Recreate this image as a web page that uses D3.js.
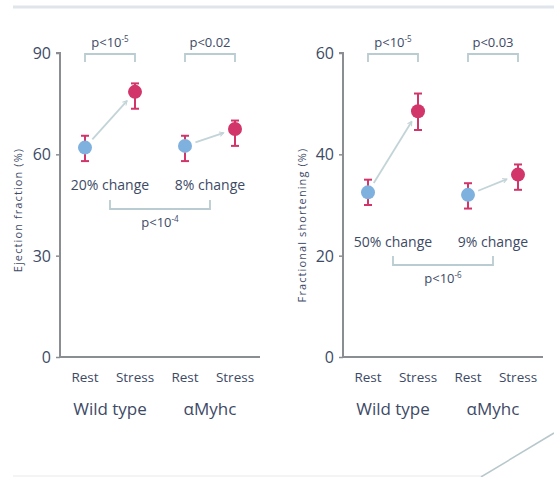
<!DOCTYPE html>
<html><head><meta charset="utf-8">
<script src="https://cdn.jsdelivr.net/npm/d3@7"></script>
<style>
body{margin:0;background:#fff;}
svg{display:block;font-family:"Open Sans",Lato,sans-serif;}
</style></head><body>
<div id="chart"></div>
<script>
const categories = ["Rest","Stress","Rest","Stress"];
const groups = ["Wild type","αMyhc"];
// Ejection fraction (%)
const efMean = [62, 78.5, 62.5, 67.5];
const efLow  = [58, 73.5, 58, 62.5];
const efHigh = [65.5, 81, 65.5, 70];
const efTicks = [0, 30, 60, 90];
const efChange = ["20% change", "8% change"];
const efP = [["p<10","-5"], ["p<0.02",""]];
const efPBetween = ["p<10","-4"];
// Fractional shortening (%)
const fsMean = [32.5, 48.5, 32, 36];
const fsLow  = [30, 44.8, 29.3, 33];
const fsHigh = [35, 52, 34.3, 38];
const fsTicks = [0, 20, 40, 60];
const fsChange = ["50% change", "9% change"];
const fsP = [["p<10","-5"], ["p<0.03",""]];
const fsPBetween = ["p<10","-6"];

const W = 554, H = 477;
const svg = d3.select("#chart").append("svg").attr("width", W).attr("height", H);
const textCol = "#3d4a66", bracketCol = "#b9ccd1", arrowCol = "#c3d4d8";
const blue = "#7fb1de", red = "#d1356a";

svg.append("defs").append("marker").attr("id","arr").attr("viewBox","0 0 10 10")
  .attr("refX",8).attr("refY",5).attr("markerWidth",6).attr("markerHeight",6)
  .attr("orient","auto").attr("markerUnits","userSpaceOnUse")
  .append("path").attr("d","M1,1 L8,5 L1,9").attr("fill","none").attr("stroke",arrowCol).attr("stroke-width",1.8);

// decorations
svg.append("line").attr("x1",13).attr("x2",W).attr("y1",7).attr("y2",7).attr("stroke","#dfe5ea").attr("stroke-width",3);
svg.append("line").attr("x1",13).attr("x2",482).attr("y1",476).attr("y2",476).attr("stroke","#eef1f3").attr("stroke-width",1.5);
svg.append("line").attr("x1",481).attr("y1",477).attr("x2",554).attr("y2",433).attr("stroke","#b7c7cc").attr("stroke-width",1.5);

function pText(sel, arr, size){
  sel.append("tspan").text(arr[0]);
  if (arr[1]) sel.append("tspan").attr("font-size", size*0.62).attr("dy", -size*0.38).text(arr[1]);
}

function panel(x0, mean, low, high, ticks, maxV, title, changes, ps, pBetween, titleX, changeY, bracketY, titleY){
  const g = svg.append("g");
  const x = d3.scalePoint().domain(d3.range(4)).range([x0, x0+200]).padding(0.5);
  const y = d3.scaleLinear().domain([0, maxV]).range([357, 53]);
  const ax = g.append("g").attr("transform",`translate(${x0},0)`)
    .call(d3.axisLeft(y).tickValues(ticks).tickSize(4).tickPadding(5));
  ax.select(".domain").attr("stroke","#8a8d92").attr("stroke-width",2).attr("d",`M-4,${y(maxV)}H0V${y(0)}`);
  ax.selectAll(".tick line").attr("stroke","#8a8d92").attr("stroke-width",1.5);
  ax.selectAll(".tick text").attr("fill",textCol).attr("font-size",16).attr("font-family","'Open Sans',sans-serif").attr("dy","0.35em");
  g.append("line").attr("x1",x0).attr("x2",x0+200).attr("y1",y(0)).attr("y2",y(0)).attr("stroke","#8a8d92").attr("stroke-width",2);
  // category labels
  g.selectAll(".cat").data(categories).join("text")
    .attr("x",(d,i)=>x(i)).attr("y",382).attr("text-anchor","middle")
    .attr("font-size",13.5).attr("fill",textCol).text(d=>d);
  g.selectAll(".grp").data(groups).join("text")
    .attr("x",(d,i)=>(x(2*i)+x(2*i+1))/2).attr("y",415).attr("text-anchor","middle")
    .attr("font-size",17).attr("fill",textCol).text(d=>d);
  // y title
  g.append("text").attr("transform",`translate(${titleX},${titleY}) rotate(-90)`)
    .attr("text-anchor","middle").attr("font-size",11).attr("letter-spacing",1.1).attr("fill",textCol).text(title);
  // arrows
  [0,1].forEach(k=>{
    const ax1 = x(2*k), ay1 = y(mean[2*k]), ax2 = x(2*k+1), ay2 = y(mean[2*k+1]);
    const dx = ax2-ax1, dy = ay2-ay1, L = Math.hypot(dx,dy);
    const s = 11/L, e = 12/L;
    g.append("line").attr("x1",ax1+dx*s).attr("y1",ay1+dy*s).attr("x2",ax2-dx*e).attr("y2",ay2-dy*e)
      .attr("stroke",arrowCol).attr("stroke-width",1.8).attr("marker-end","url(#arr)");
  });
  // error bars
  const eb = g.selectAll(".eb").data(d3.range(4)).join("g");
  eb.append("line").attr("x1",i=>x(i)).attr("x2",i=>x(i)).attr("y1",i=>y(low[i])).attr("y2",i=>y(high[i]))
    .attr("stroke",red).attr("stroke-width",2);
  eb.append("line").attr("x1",i=>x(i)-4).attr("x2",i=>x(i)+4).attr("y1",i=>y(low[i])).attr("y2",i=>y(low[i]))
    .attr("stroke",red).attr("stroke-width",2);
  eb.append("line").attr("x1",i=>x(i)-4).attr("x2",i=>x(i)+4).attr("y1",i=>y(high[i])).attr("y2",i=>y(high[i]))
    .attr("stroke",red).attr("stroke-width",2);
  eb.append("circle").attr("cx",i=>x(i)).attr("cy",i=>y(mean[i])).attr("r",7)
    .attr("fill",i=>i%2===0?blue:red);
  // top brackets
  [0,1].forEach(k=>{
    const a = x(2*k), b = x(2*k+1);
    g.append("path").attr("d",`M${a},62V54H${b}V62`).attr("fill","none").attr("stroke",bracketCol).attr("stroke-width",1.8);
    pText(g.append("text").attr("x",(a+b)/2).attr("y",47).attr("text-anchor","middle").attr("font-size",13).attr("fill",textCol), ps[k], 13);
  });
  // change labels
  g.selectAll(".chg").data(changes).join("text")
    .attr("x",(d,k)=>(x(2*k)+x(2*k+1))/2).attr("y",changeY).attr("text-anchor","middle")
    .attr("font-size",14).attr("fill",textCol).text(d=>d);
  // bottom bracket
  const a = (x(0)+x(1))/2, b = (x(2)+x(3))/2, by = bracketY;
  g.append("path").attr("d",`M${a},${by-9}V${by}H${b}V${by-9}`).attr("fill","none").attr("stroke",bracketCol).attr("stroke-width",1.8);
  pText(g.append("text").attr("x",(a+b)/2).attr("y",by+18).attr("text-anchor","middle").attr("font-size",13).attr("fill",textCol), pBetween, 13);
}
panel(60, efMean, efLow, efHigh, efTicks, 90, "Ejection fraction (%)", efChange, efP, efPBetween, 22, 190, 209, 210);
panel(343, fsMean, fsLow, fsHigh, fsTicks, 60, "Fractional shortening (%)", fsChange, fsP, fsPBetween, 306, 247, 265, 225);
</script>
</body></html>
